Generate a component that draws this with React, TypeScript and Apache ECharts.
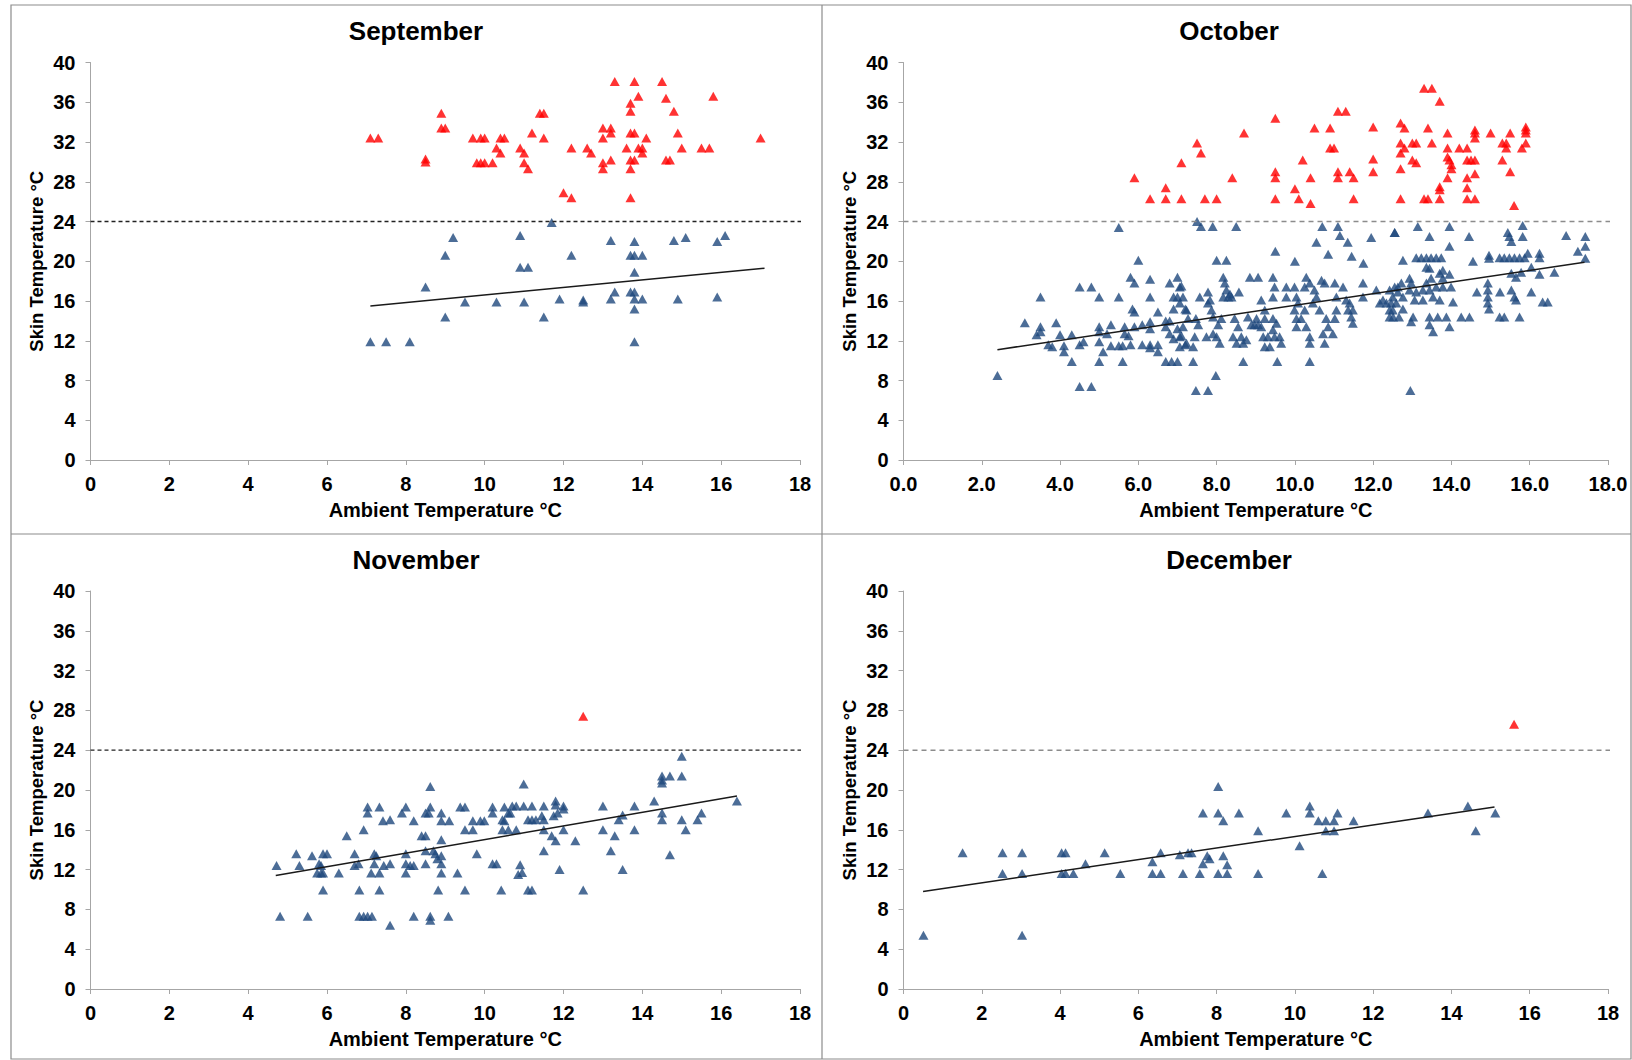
import React, { useEffect, useRef } from "react";
import * as echarts from "echarts";

const months = ["September", "October", "November", "December"];
const threshold = 24;
const thresholdEnd = 18.4;

const sepHot = [
  [7.1, 32.4], [7.3, 32.4], [8.5, 30.0], [8.5, 30.3], [8.9, 34.9], [8.9, 33.4], [9.0, 33.4],
  [9.7, 32.4], [9.9, 32.4], [10.0, 32.4], [10.4, 32.4], [10.5, 32.4], [10.3, 31.4], [10.4, 30.9],
  [9.8, 29.9], [9.9, 29.9], [10.0, 29.9], [10.2, 29.9], [10.9, 31.4], [11.0, 30.9], [11.0, 29.9],
  [11.1, 29.3], [11.2, 32.9], [11.4, 34.9], [11.5, 34.9], [11.5, 32.4], [12.2, 31.4], [12.0, 26.9],
  [12.2, 26.4], [13.3, 38.1], [13.8, 38.1], [14.5, 38.1], [13.9, 36.6], [14.6, 36.4], [15.8, 36.6],
  [13.7, 35.9], [13.7, 35.1], [14.8, 35.1], [13.0, 33.4], [13.2, 33.4], [13.2, 32.9], [13.0, 32.4],
  [13.7, 32.9], [13.8, 32.9], [14.1, 32.4], [14.9, 32.9], [17.0, 32.4], [12.6, 31.4], [12.7, 30.9],
  [13.6, 31.4], [13.9, 31.4], [14.0, 31.4], [14.0, 30.9], [15.0, 31.4], [15.5, 31.4], [15.7, 31.4],
  [13.0, 29.9], [13.0, 29.3], [13.2, 30.2], [13.7, 30.2], [13.8, 30.2], [13.7, 29.3], [14.6, 30.2],
  [14.7, 30.2], [13.7, 26.4],
];
const sepNormal = [
  [7.1, 11.9], [7.5, 11.9], [8.1, 11.9], [8.5, 17.4], [9.0, 20.6], [9.2, 22.4], [9.0, 14.4],
  [9.5, 15.9], [10.3, 15.9], [10.9, 22.6], [10.9, 19.4], [11.1, 19.4], [11.0, 15.9], [11.5, 14.4],
  [11.7, 23.9], [11.9, 16.2], [12.2, 20.6], [12.5, 16.1], [12.5, 15.9], [13.2, 22.1], [13.8, 22.0],
  [13.7, 20.6], [13.8, 20.6], [14.0, 20.6], [13.8, 18.9], [13.3, 16.9], [13.2, 16.2], [13.7, 16.9],
  [13.8, 16.9], [13.8, 16.2], [14.0, 16.2], [13.8, 15.2], [13.8, 11.9], [14.8, 22.1], [15.1, 22.4],
  [14.9, 16.2], [15.9, 22.0], [16.1, 22.6], [15.9, 16.4],
];
const sepTrend = [[7.1, 15.5], [17.1, 19.3]];

const octHot = [
  [5.9, 28.4], [7.1, 29.9], [6.7, 27.4], [6.3, 26.3], [6.7, 26.3], [7.1, 26.3], [7.5, 31.9],
  [7.6, 30.9], [7.7, 26.3], [8.0, 26.3], [8.4, 28.4], [8.7, 32.9], [9.5, 34.4], [9.5, 29.0],
  [9.5, 28.4], [9.5, 26.3], [10.0, 27.3], [10.1, 26.3], [10.2, 30.2], [10.4, 28.4], [10.4, 25.8],
  [10.5, 33.4], [10.9, 33.4], [10.9, 31.4], [11.0, 31.4], [11.1, 29.0], [11.1, 28.4], [11.4, 29.0],
  [11.5, 28.4], [11.5, 26.3], [11.1, 35.1], [11.3, 35.1], [12.0, 33.5], [12.0, 30.3], [12.0, 29.0],
  [13.3, 37.4], [13.5, 37.4], [13.7, 36.1], [12.7, 33.9], [12.8, 33.4], [13.4, 33.4], [13.9, 32.9],
  [14.6, 33.2], [14.6, 32.9], [14.6, 32.4], [15.0, 32.9], [15.5, 32.9], [15.9, 33.5], [15.9, 33.2],
  [15.9, 32.9], [12.7, 31.9], [13.0, 31.9], [13.1, 31.9], [12.8, 31.4], [13.5, 31.9], [12.7, 30.9],
  [13.0, 30.2], [13.1, 29.9], [12.7, 29.3], [13.9, 31.4], [14.2, 31.4], [14.4, 31.4], [13.9, 30.5],
  [13.95, 30.2], [14.0, 29.7], [14.0, 29.3], [14.4, 30.2], [14.5, 30.2], [14.6, 30.2], [14.6, 28.8],
  [14.4, 28.4], [13.9, 28.4], [13.7, 27.5], [13.7, 27.2], [14.4, 27.4], [15.3, 31.9], [15.4, 31.9],
  [15.4, 31.4], [15.8, 31.4], [15.9, 31.9], [15.3, 30.2], [15.5, 29.0], [12.7, 26.3], [13.3, 26.3],
  [13.4, 26.3], [13.7, 26.3], [14.4, 26.3], [14.6, 26.3], [15.6, 25.6],
];
const octNormal = [
  [2.4, 8.5], [4.5, 7.4], [4.8, 7.4], [5.5, 23.4], [6.0, 20.1], [5.8, 18.4], [5.9, 17.8], [6.3, 18.2],
  [7.0, 18.4], [6.8, 17.8], [7.1, 17.5], [4.5, 17.4], [4.8, 17.4], [3.5, 16.4], [5.0, 16.4], [5.5, 16.4],
  [6.3, 16.4], [6.9, 16.4], [7.0, 16.4], [5.85, 15.2], [5.9, 14.9], [6.5, 14.9], [6.9, 15.2], [7.2, 15.2],
  [3.1, 13.8], [3.5, 13.4], [3.9, 13.8], [3.4, 12.6], [3.5, 12.9], [4.0, 12.6], [4.3, 12.6], [3.7, 11.6],
  [3.8, 11.4], [4.1, 11.5], [4.1, 10.9], [4.5, 11.6], [4.6, 11.9], [4.3, 9.9], [5.0, 13.4], [5.0, 12.9],
  [5.0, 11.9], [5.1, 10.9], [5.2, 12.7], [5.3, 13.6], [5.0, 9.9], [5.6, 9.9], [5.3, 11.5], [5.5, 11.5],
  [5.6, 11.5], [5.65, 13.4], [5.65, 12.7], [5.75, 12.5], [5.9, 13.4], [6.1, 13.6], [6.3, 13.9], [6.3, 13.2],
  [5.8, 11.6], [6.1, 11.6], [6.3, 11.6], [6.3, 11.3], [6.5, 11.6], [6.5, 10.9], [6.7, 14.0], [6.8, 14.0],
  [6.7, 13.4], [6.8, 12.7], [6.9, 12.2], [7.0, 13.2], [7.1, 12.5], [7.2, 11.6], [6.7, 9.9], [6.85, 9.9],
  [7.0, 9.9],
  [7.5, 24.0], [7.6, 23.5], [7.9, 23.5], [8.5, 23.5], [8.0, 20.1], [8.25, 20.1], [9.5, 21.0], [10.0, 20.0],
  [10.7, 23.5], [11.1, 23.5], [10.55, 21.9], [11.15, 22.6], [11.35, 21.9], [10.85, 20.7], [11.45, 20.5],
  [11.75, 19.8], [11.95, 22.4], [12.55, 22.9],
  [7.06, 17.4], [7.14, 16.4], [7.06, 15.8], [7.23, 15.1], [7.27, 14.25], [7.14, 13.4], [7.06, 12.4],
  [7.23, 11.75], [7.44, 12.4], [7.57, 16.4], [7.47, 14.25], [7.53, 13.6], [7.4, 11.4], [7.06, 11.4],
  [7.78, 16.9], [7.78, 15.8], [7.83, 16.1], [7.87, 15.1], [7.91, 14.4], [7.91, 12.7], [7.74, 12.4],
  [8.0, 12.4], [8.08, 11.75], [8.04, 13.6], [8.12, 14.25], [8.17, 18.4], [8.21, 17.8], [8.25, 17.1],
  [8.17, 16.4], [8.3, 16.4], [8.34, 16.7], [8.38, 16.4], [8.57, 16.9], [8.46, 14.25], [8.55, 13.4],
  [8.63, 12.4], [8.42, 12.4], [8.51, 11.75], [8.68, 11.75], [8.76, 12.1], [8.85, 18.4], [9.06, 18.4],
  [8.89, 13.6], [8.97, 13.6], [9.06, 13.6], [9.02, 14.25], [8.8, 14.4], [9.14, 16.1], [9.23, 15.1],
  [9.23, 14.25], [9.14, 13.4], [9.19, 12.4], [9.31, 12.4], [9.36, 11.4], [9.23, 11.4], [9.44, 18.4],
  [9.48, 17.4], [9.44, 16.4], [9.44, 14.25], [9.53, 13.75], [9.44, 13.1], [9.48, 12.4], [9.61, 12.4],
  [9.65, 11.75], [9.78, 17.4], [9.78, 16.4], [9.99, 17.4], [10.04, 16.4], [10.08, 15.8], [9.99, 15.1],
  [10.04, 14.25], [10.16, 14.25], [10.04, 13.4], [10.25, 15.1], [10.29, 13.4], [10.38, 12.4],
  [10.38, 11.75], [10.29, 18.4], [10.38, 17.8], [10.25, 17.4], [10.5, 17.1], [10.55, 16.4], [10.46, 15.8],
  [10.68, 18.1], [10.76, 17.8], [10.63, 15.1], [10.8, 14.25], [10.85, 13.4], [10.72, 12.7], [10.76, 11.75],
  [10.97, 12.7], [11.02, 14.25], [11.06, 15.1], [11.06, 16.4], [11.02, 17.8], [11.23, 17.4], [11.31, 16.1],
  [11.4, 15.8], [11.36, 15.1], [11.48, 15.1], [11.44, 14.4], [11.48, 13.75], [11.74, 17.8], [11.74, 16.4],
  [12.08, 17.1], [12.17, 15.8], [12.25, 16.1], [12.34, 15.8], [12.42, 15.1], [12.51, 14.4], [12.59, 15.8],
  [12.63, 17.4], [7.4, 9.9], [8.68, 9.9], [9.55, 9.9], [10.38, 9.9], [7.98, 8.5], [7.47, 7.0], [7.78, 7.0],
  [12.55, 22.9], [13.14, 23.5], [13.95, 23.5], [14.45, 22.5], [13.44, 22.5], [13.95, 21.5], [15.44, 22.9],
  [15.48, 22.5], [15.53, 22.0], [15.82, 23.6], [15.82, 22.5], [16.93, 22.6], [17.42, 22.5], [17.42, 21.5],
  [17.23, 21.0], [17.42, 20.3], [12.76, 20.1], [13.1, 20.36], [13.23, 20.36], [13.36, 20.36], [13.48, 20.36],
  [13.61, 20.36], [13.74, 20.36], [13.36, 19.4], [13.44, 19.3], [14.55, 20.0], [14.96, 20.6], [14.96, 20.3],
  [15.23, 20.36], [15.35, 20.36], [15.48, 20.36], [15.61, 20.36], [15.74, 20.36], [15.87, 20.36],
  [15.95, 20.8], [16.25, 20.8], [16.25, 20.36], [13.78, 19.1], [13.7, 18.8], [13.95, 18.7], [13.78, 18.3],
  [13.48, 18.3], [13.36, 17.8], [12.93, 18.3], [12.97, 17.8], [12.72, 17.8], [12.55, 17.4], [12.42, 17.1],
  [12.63, 16.9], [12.93, 17.1], [13.1, 16.9], [13.27, 17.1], [13.44, 17.1], [13.61, 17.4], [13.78, 17.4],
  [13.99, 17.4], [12.5, 16.4], [12.76, 16.4], [13.06, 16.1], [13.27, 16.1], [13.53, 16.4], [13.7, 16.1],
  [14.04, 15.9], [12.46, 15.8], [12.5, 15.1], [12.76, 15.2], [12.42, 14.4], [12.66, 14.4], [13.02, 14.4],
  [12.97, 13.9], [13.44, 14.4], [13.65, 14.4], [13.87, 14.4], [13.44, 13.6], [13.53, 12.9], [13.95, 13.4],
  [14.25, 14.4], [14.46, 14.4], [14.65, 16.9], [14.93, 17.8], [14.93, 17.1], [14.93, 16.4], [14.93, 15.8],
  [14.96, 15.2], [15.24, 16.9], [15.53, 17.1], [15.61, 16.4], [15.65, 16.1], [16.04, 16.9], [16.33, 15.9],
  [16.46, 15.9], [15.23, 14.4], [15.35, 14.4], [15.74, 14.4], [15.53, 18.8], [15.65, 18.4], [15.78, 18.9],
  [16.04, 19.4], [16.25, 18.7], [16.63, 18.9], [12.95, 7.0],
];
const octTrend = [[2.4, 11.1], [17.4, 19.9]];

const novHot = [[12.5, 27.4]];
const novNormal = [
  [4.72, 12.4], [4.81, 7.3], [5.22, 13.6], [5.3, 12.4], [5.51, 7.3], [5.62, 13.4], [5.8, 12.6],
  [5.75, 11.65], [5.85, 11.65], [5.9, 11.65], [5.9, 13.6], [6.0, 13.6], [5.85, 12.4], [5.9, 9.95],
  [6.3, 11.65], [6.5, 15.4], [6.7, 13.6], [6.7, 12.4], [6.8, 12.6], [6.82, 9.95], [6.82, 7.3], [6.93, 7.3],
  [7.03, 7.3], [7.14, 7.3], [6.93, 16.0], [7.03, 18.3], [7.03, 17.7], [7.12, 11.65], [7.2, 13.6],
  [7.2, 12.6], [7.25, 13.4], [7.33, 18.3], [7.33, 11.65], [7.33, 9.95], [7.44, 12.4], [7.6, 12.6],
  [7.6, 17.0], [7.42, 16.9], [7.6, 6.4], [7.9, 17.7], [8.0, 18.3], [8.0, 13.6], [8.0, 12.6], [8.0, 11.65],
  [8.11, 12.4], [8.2, 12.4], [8.2, 16.9], [8.2, 7.3], [8.4, 15.4], [8.5, 15.4], [8.5, 17.7], [8.58, 17.7],
  [8.62, 18.3], [8.5, 13.9], [8.5, 12.6], [8.62, 20.35], [8.62, 7.3], [8.62, 6.9], [8.7, 13.9],
  [8.75, 13.6], [8.8, 13.1], [8.9, 17.7], [8.9, 16.9], [9.1, 16.9], [8.9, 15.0], [8.9, 13.4], [8.9, 12.6],
  [8.9, 11.65], [8.82, 9.95], [9.08, 7.3], [9.31, 11.65], [9.38, 18.3], [9.5, 18.3], [9.5, 16.0],
  [9.7, 16.0], [9.5, 9.95], [9.7, 16.9], [9.89, 16.9], [9.99, 16.9], [9.8, 13.6], [10.2, 18.3], [10.2, 17.7],
  [10.5, 18.3], [10.6, 17.7], [10.2, 12.6], [10.3, 12.6], [10.42, 9.95], [10.45, 16.0], [10.6, 16.0],
  [10.5, 16.9], [15.0, 23.4], [14.5, 21.4], [14.7, 21.4], [15.0, 21.4], [14.5, 20.7], [14.5, 21.0],
  [10.99, 20.6], [10.7, 18.4], [10.8, 18.4], [10.99, 18.4], [11.2, 18.4], [11.5, 18.4], [11.8, 18.9],
  [11.8, 18.5], [12.0, 18.4], [12.0, 18.1], [10.65, 17.7], [11.1, 17.0], [11.2, 17.0], [11.3, 17.0],
  [11.45, 17.4], [11.5, 17.0], [11.75, 17.4], [11.85, 17.7], [10.45, 17.0], [10.8, 16.0], [11.5, 16.0],
  [11.7, 15.4], [11.8, 14.9], [12.0, 16.0], [12.3, 14.9], [13.0, 18.4], [13.5, 17.5], [13.4, 17.0],
  [13.8, 18.4], [14.3, 18.9], [14.5, 17.7], [14.5, 17.0], [15.0, 17.0], [15.5, 17.7], [15.4, 17.0],
  [16.4, 18.9], [13.0, 16.0], [13.3, 15.4], [13.8, 16.0], [15.1, 16.0], [11.5, 13.9], [13.2, 13.9],
  [14.7, 13.5], [10.9, 12.5], [10.95, 11.7], [10.85, 11.5], [11.9, 12.0], [13.5, 12.0], [11.1, 9.95],
  [11.2, 9.95], [12.5, 9.95],
];
const novTrend = [[4.7, 11.4], [16.4, 19.4]];

const decHot = [[15.6, 26.6]];
const decNormal = [
  [0.51, 5.4], [1.51, 13.7], [2.53, 13.7], [2.53, 11.6], [3.03, 13.7], [3.03, 11.6], [3.03, 5.4],
  [4.04, 13.7], [4.14, 13.7], [4.04, 11.6], [4.14, 11.6], [4.34, 11.6], [4.65, 12.6], [5.14, 13.7],
  [5.54, 11.6], [6.36, 12.8], [6.36, 11.6], [6.57, 11.6], [6.57, 13.7], [7.06, 13.5], [7.27, 13.7],
  [7.36, 13.7], [7.14, 11.6], [7.57, 11.6], [7.65, 17.7], [7.65, 12.6], [7.76, 13.4], [8.04, 20.35],
  [8.04, 17.7], [8.04, 11.6], [8.17, 16.9], [8.57, 17.7], [8.17, 13.4], [8.27, 12.5], [8.27, 11.6],
  [7.82, 13.1], [9.06, 15.9], [9.06, 11.6], [9.78, 17.7], [10.12, 14.4], [10.38, 18.4], [10.38, 17.7],
  [10.6, 16.9], [10.79, 16.9], [11.0, 16.9], [11.09, 17.7], [10.79, 15.9], [11.0, 15.9], [10.7, 11.6],
  [11.5, 16.9], [13.4, 17.7], [14.42, 18.4], [14.62, 15.9], [15.12, 17.7],
];
const decTrend = [[0.5, 9.8], [15.1, 18.3]];

const panels = [
  { normal: sepNormal, hot: sepHot, trend: sepTrend, decimals: 0, dark: true },
  { normal: octNormal, hot: octHot, trend: octTrend, decimals: 1, dark: false },
  { normal: novNormal, hot: novHot, trend: novTrend, decimals: 0, dark: true },
  { normal: decNormal, hot: decHot, trend: decTrend, decimals: 0, dark: false },
];

const grids = [
  { left: 90.5, top: 62.5, width: 709.5, height: 397.5 },
  { left: 903.5, top: 62.5, width: 704.5, height: 397.5 },
  { left: 90.5, top: 591, width: 709.5, height: 398 },
  { left: 903.5, top: 591, width: 704.5, height: 398 },
];
const titlePos = [
  [416, 18], [1229, 18], [416, 547], [1229, 547],
];

const FONT = '"Liberation Sans", Arial, sans-serif';
const BLUE = "#1F497D";
const RED = "#FF0000";
const AXIS = "#A6A6A6";

export default function App() {
  const ref = useRef<HTMLDivElement>(null);
  useEffect(() => {
    document.body.style.margin = "0";
    const chart = echarts.init(ref.current!, null, { renderer: "svg" });
    const series: any[] = [];
    panels.forEach((p, i) => {
      series.push({
        type: "scatter", xAxisIndex: i, yAxisIndex: i, data: p.normal,
        symbol: "triangle", symbolSize: [10, 9], itemStyle: { color: BLUE }, z: 2,
      });
      series.push({
        type: "scatter", xAxisIndex: i, yAxisIndex: i, data: p.hot,
        symbol: "triangle", symbolSize: [10, 9], itemStyle: { color: RED }, z: 2,
      });
      series.push({
        type: "line", xAxisIndex: i, yAxisIndex: i, data: p.trend, symbol: "none",
        lineStyle: { color: "#1a1a1a", width: 1.5 }, z: 4, silent: true,
      });
      series.push({
        type: "line", xAxisIndex: i, yAxisIndex: i, clip: false,
        data: [[0, threshold], [thresholdEnd, threshold]], symbol: "none", silent: true,
        lineStyle: p.dark
          ? { color: "#222", width: 1.3, type: [4, 3] }
          : { color: "#8c8c8c", width: 1.6, type: [5, 4] },
        z: 3,
      });
    });
    const option: any = {
      animation: false,
      backgroundColor: "#fff",
      title: months.map((m, i) => ({
        text: m, left: titlePos[i][0], top: titlePos[i][1], textAlign: "center", padding: 0,
        textStyle: { fontFamily: FONT, fontWeight: "bold", fontSize: 26, color: "#000" },
      })),
      grid: grids,
      xAxis: panels.map((p, i) => ({
        type: "value", gridIndex: i, min: 0, max: 18, interval: 2,
        name: "Ambient Temperature °C", nameLocation: "middle", nameGap: 40,
        nameTextStyle: { fontFamily: FONT, fontWeight: "bold", fontSize: 20, color: "#000" },
        axisLine: { lineStyle: { color: AXIS, width: 1 } },
        axisTick: { show: true, length: 5, lineStyle: { color: AXIS } },
        splitLine: { show: false },
        axisLabel: {
          margin: 14, fontFamily: FONT, fontWeight: "bold", fontSize: 20, color: "#000",
          formatter: (v: number) => v.toFixed(p.decimals),
        },
      })),
      yAxis: panels.map((p, i) => ({
        type: "value", gridIndex: i, min: 0, max: 40, interval: 4,
        name: "Skin Temperature °C", nameLocation: "middle", nameGap: 45,
        nameTextStyle: { fontFamily: FONT, fontWeight: "bold", fontSize: 18.5, color: "#000" },
        axisLine: { show: true, lineStyle: { color: AXIS, width: 1 } },
        axisTick: { show: true, length: 5, lineStyle: { color: AXIS } },
        splitLine: { show: false },
        axisLabel: { margin: 15, fontFamily: FONT, fontWeight: "bold", fontSize: 20, color: "#000" },
      })),
      graphic: [
        { type: "rect", shape: { x: 11, y: 5, width: 1620, height: 1054 }, style: { fill: "none", stroke: "#8c8c8c", lineWidth: 1.2 }, silent: true },
        { type: "line", shape: { x1: 822, y1: 5, x2: 822, y2: 1059 }, style: { stroke: "#8c8c8c", lineWidth: 1.2 }, silent: true },
        { type: "line", shape: { x1: 11, y1: 534, x2: 1631, y2: 534 }, style: { stroke: "#8c8c8c", lineWidth: 1.2 }, silent: true },
      ],
      series,
    };
    chart.setOption(option);
    return () => chart.dispose();
  }, []);
  return <div ref={ref} style={{ width: 1632, height: 1060 }} />;
}
